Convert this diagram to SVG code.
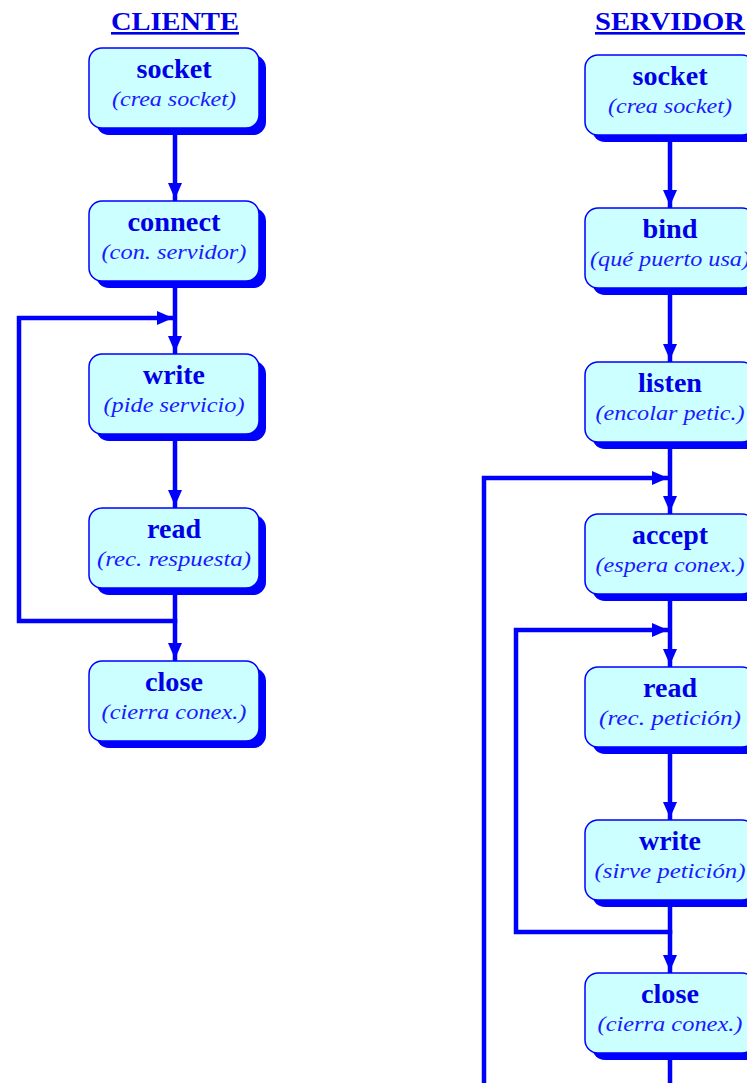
<svg xmlns="http://www.w3.org/2000/svg" width="747" height="1083" viewBox="0 0 747 1083">
  <style>
    .box { fill: #ccffff; stroke: #0000ff; stroke-width: 1.5; }
    .shadow { fill: #0000ff; }
    .name { font-family: "Liberation Serif", serif; font-weight: bold; font-size: 26.5px; fill: #0000e6; text-anchor: middle; }
    .desc { font-family: "Liberation Serif", serif; font-style: italic; font-size: 21.5px; fill: #1a1aff; text-anchor: middle; }
    .title { font-family: "Liberation Serif", serif; font-weight: bold; font-size: 26px; fill: #0000e6; text-anchor: middle; text-decoration: underline; }
    .wire { fill: none; stroke: #0000ff; stroke-width: 4.5; stroke-linejoin: miter; stroke-linecap: square; }
  </style>
  <defs>
    <marker id="arrow" viewBox="0 0 16 14" refX="16" refY="7" markerWidth="16" markerHeight="14" markerUnits="userSpaceOnUse" orient="auto">
      <path d="M0,0 L16,7 L0,14 Z" fill="#0000ff"/>
    </marker>
    <g id="node-shape">
      <rect class="shadow" x="7" y="7" width="170" height="80" rx="13"/>
      <rect class="box" x="0" y="0" width="170" height="80" rx="13"/>
    </g>
  </defs>

  <text class="title" x="175" y="30" textLength="128" lengthAdjust="spacingAndGlyphs">CLIENTE</text>
  <text class="title" x="670" y="30" textLength="150" lengthAdjust="spacingAndGlyphs">SERVIDOR</text>

  <g id="connectors">
    <!-- client chain -->
    <path class="wire" d="M175,128 V199" marker-end="url(#arrow)"/>
    <path class="wire" d="M175,281 V352" marker-end="url(#arrow)"/>
    <path class="wire" d="M175,434 V506" marker-end="url(#arrow)"/>
    <path class="wire" d="M175,588 V659" marker-end="url(#arrow)"/>
    <path class="wire" d="M175,621 H19 V318 H173" marker-end="url(#arrow)"/>
    <!-- server chain -->
    <path class="wire" d="M670,135 V206" marker-end="url(#arrow)"/>
    <path class="wire" d="M670,288 V360" marker-end="url(#arrow)"/>
    <path class="wire" d="M670,442 V512" marker-end="url(#arrow)"/>
    <path class="wire" d="M670,594 V665" marker-end="url(#arrow)"/>
    <path class="wire" d="M670,747 V818" marker-end="url(#arrow)"/>
    <path class="wire" d="M670,900 V971" marker-end="url(#arrow)"/>
    <path class="wire" d="M670,1060 V1085"/>
    <path class="wire" d="M484,1085 V478 H668" marker-end="url(#arrow)"/>
    <path class="wire" d="M670,932 H516 V630 H668" marker-end="url(#arrow)"/>
  </g>

  <!-- client nodes -->
  <g id="c-socket" transform="translate(89,48)">
    <use href="#node-shape"/>
    <text class="name" x="85" y="30" textLength="75" lengthAdjust="spacingAndGlyphs">socket</text>
    <text class="desc" x="85" y="58" textLength="124" lengthAdjust="spacingAndGlyphs">(crea socket)</text>
  </g>
  <g id="c-connect" transform="translate(89,201)">
    <use href="#node-shape"/>
    <text class="name" x="85" y="30" textLength="93" lengthAdjust="spacingAndGlyphs">connect</text>
    <text class="desc" x="85" y="58" textLength="145" lengthAdjust="spacingAndGlyphs">(con. servidor)</text>
  </g>
  <g id="c-write" transform="translate(89,354)">
    <use href="#node-shape"/>
    <text class="name" x="85" y="30" textLength="62" lengthAdjust="spacingAndGlyphs">write</text>
    <text class="desc" x="85" y="58" textLength="141" lengthAdjust="spacingAndGlyphs">(pide servicio)</text>
  </g>
  <g id="c-read" transform="translate(89,508)">
    <use href="#node-shape"/>
    <text class="name" x="85" y="30" textLength="54" lengthAdjust="spacingAndGlyphs">read</text>
    <text class="desc" x="85" y="58" textLength="154" lengthAdjust="spacingAndGlyphs">(rec. respuesta)</text>
  </g>
  <g id="c-close" transform="translate(89,661)">
    <use href="#node-shape"/>
    <text class="name" x="85" y="30" textLength="58" lengthAdjust="spacingAndGlyphs">close</text>
    <text class="desc" x="85" y="58" textLength="145" lengthAdjust="spacingAndGlyphs">(cierra conex.)</text>
  </g>

  <!-- server nodes -->
  <g id="s-socket" transform="translate(585,55)">
    <use href="#node-shape"/>
    <text class="name" x="85" y="30" textLength="75" lengthAdjust="spacingAndGlyphs">socket</text>
    <text class="desc" x="85" y="58" textLength="124" lengthAdjust="spacingAndGlyphs">(crea socket)</text>
  </g>
  <g id="s-bind" transform="translate(585,208)">
    <use href="#node-shape"/>
    <text class="name" x="85" y="30" textLength="55" lengthAdjust="spacingAndGlyphs">bind</text>
    <text class="desc" x="85" y="58" textLength="160" lengthAdjust="spacingAndGlyphs">(qué puerto usa)</text>
  </g>
  <g id="s-listen" transform="translate(585,362)">
    <use href="#node-shape"/>
    <text class="name" x="85" y="30" textLength="64" lengthAdjust="spacingAndGlyphs">listen</text>
    <text class="desc" x="85" y="58" textLength="149" lengthAdjust="spacingAndGlyphs">(encolar petic.)</text>
  </g>
  <g id="s-accept" transform="translate(585,514)">
    <use href="#node-shape"/>
    <text class="name" x="85" y="30" textLength="76" lengthAdjust="spacingAndGlyphs">accept</text>
    <text class="desc" x="85" y="58" textLength="149" lengthAdjust="spacingAndGlyphs">(espera conex.)</text>
  </g>
  <g id="s-read" transform="translate(585,667)">
    <use href="#node-shape"/>
    <text class="name" x="85" y="30" textLength="54" lengthAdjust="spacingAndGlyphs">read</text>
    <text class="desc" x="85" y="58" textLength="142" lengthAdjust="spacingAndGlyphs">(rec. petición)</text>
  </g>
  <g id="s-write" transform="translate(585,820)">
    <use href="#node-shape"/>
    <text class="name" x="85" y="30" textLength="62" lengthAdjust="spacingAndGlyphs">write</text>
    <text class="desc" x="85" y="58" textLength="151" lengthAdjust="spacingAndGlyphs">(sirve petición)</text>
  </g>
  <g id="s-close" transform="translate(585,973)">
    <use href="#node-shape"/>
    <text class="name" x="85" y="30" textLength="58" lengthAdjust="spacingAndGlyphs">close</text>
    <text class="desc" x="85" y="58" textLength="145" lengthAdjust="spacingAndGlyphs">(cierra conex.)</text>
  </g>
</svg>
